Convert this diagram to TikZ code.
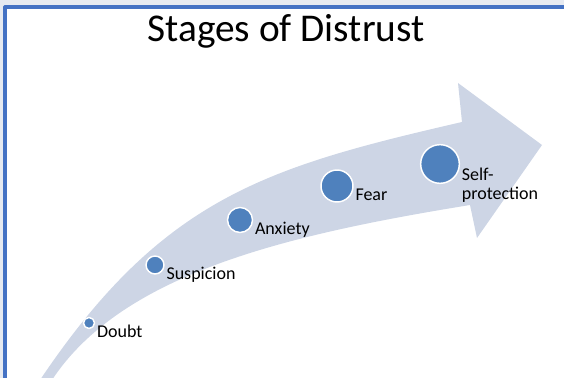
\documentclass[tikz,border=0pt]{standalone}
\usepackage{fontspec}
\setmainfont{Carlito}
\usetikzlibrary{calc}
\definecolor{bandfill}{HTML}{CDD5E5}
\definecolor{dotblue}{HTML}{4F81BD}
\definecolor{frameblue}{HTML}{4472C4}
\definecolor{edgegrey}{HTML}{E6EAF1}
\begin{document}
\begin{tikzpicture}[x=0.75pt,y=0.75pt, line join=round,
	stage/.style={circle, fill=dotblue, draw=white, line width=1.1pt, inner sep=0pt},
	stagelabel/.style={inner sep=0pt, font=\fontsize{13.5pt}{14pt}\selectfont}]
	\useasboundingbox (0,0) rectangle (564,378);
	%Khung trang
	\fill[edgegrey] (0,0) rectangle (3,378) (0,373) rectangle (564,378);
	\draw[frameblue, line width=3pt] (5,0)--(5,371)--(564,371);
	\node[anchor=base, inner sep=0pt, font=\fontsize{29.5pt}{32pt}\selectfont] (title) at (286,336) {Stages of Distrust};
	%Mui ten cong
	\path 
	(40,-2) coordinate (T_1)
	(52,-2) coordinate (T_2)
	(462,256) coordinate (H_1)
	(458,295) coordinate (H_2)
	(542,233) coordinate (H_3)
	(477,140) coordinate (H_4)
	(470,173) coordinate (H_5)
	;
	\begin{scope}
	\clip (0,0) rectangle (564,378);
	\fill[bandfill] (T_1) .. controls (163,181) and (267,211) .. (H_1)--(H_2)--(H_3)--(H_4)--(H_5) .. controls (292,144) and (123,106) .. (T_2)--cycle;
	\end{scope}
	%Cac giai doan
	\foreach \n/\x/\y/\r/\t in {doubt/89/55/5.5/Doubt, suspicion/155/113/9/Suspicion, anxiety/240/158/12.5/Anxiety, fear/337/192/16/Fear}
	{
	\node[stage, minimum size=\r*1.5pt] (\n) at (\x,\y) {};
	\node[stagelabel, anchor=base west] (\n-lbl) at ($(\n.east)+(1.5,-14.5)$) {\t};
	}
	\node[stage, minimum size=29pt] (selfprot) at (440,214) {};
	\node[stagelabel, anchor=north west, align=left] (selfprot-lbl) at ($(selfprot.east)+(1.5,-4)$) {Self-\\protection};
\end{tikzpicture}
\end{document}
